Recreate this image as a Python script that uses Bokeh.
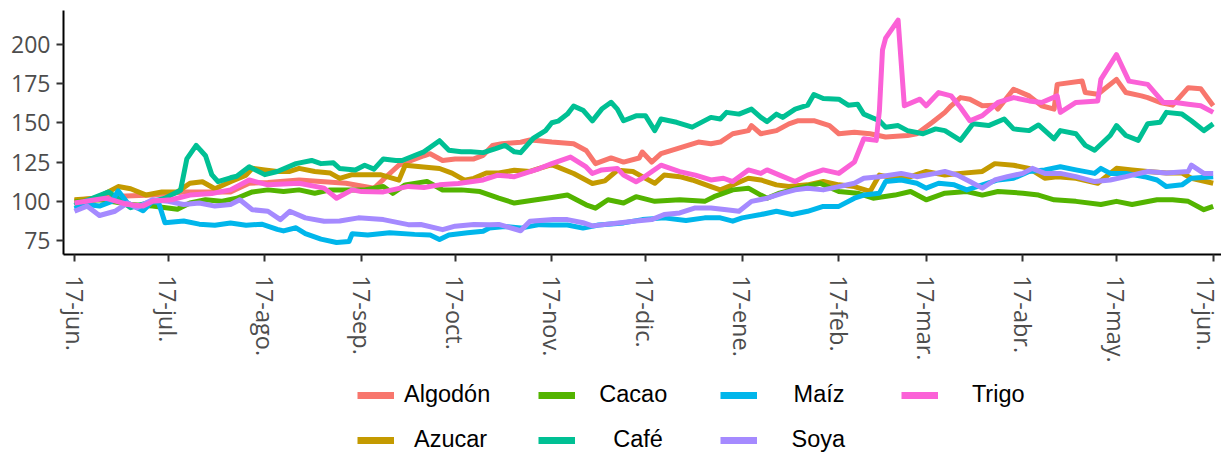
from bokeh.plotting import figure
from bokeh.models import Range1d, FixedTicker, Legend, LegendItem
from bokeh.layouts import column
from bokeh.embed import file_html
from bokeh.resources import INLINE
from datetime import date

# ---------------- data ----------------
START = date(2021, 6, 17)   # day 0 of the x axis

tick_dates = [date(2021, 6, 17), date(2021, 7, 17), date(2021, 8, 17), date(2021, 9, 17),
              date(2021, 10, 17), date(2021, 11, 17), date(2021, 12, 17), date(2022, 1, 17),
              date(2022, 2, 17), date(2022, 3, 17), date(2022, 4, 17), date(2022, 5, 17),
              date(2022, 6, 17)]
tick_labels = ["17-jun.", "17-jul.", "17-ago.", "17-sep.", "17-oct.", "17-nov.", "17-dic.",
               "17-ene.", "17-feb.", "17-mar.", "17-abr.", "17-may.", "17-jun."]
y_ticks = [75, 100, 125, 150, 175, 200]

series_names = ["Algodón", "Azucar", "Cacao", "Café", "Maíz", "Soya", "Trigo"]

algodon_days = [0, 10, 25, 35, 50, 56, 62, 72, 80, 87, 96, 100, 104, 108, 112, 114, 118, 122, 128, 131,
                134, 137, 143, 146, 149, 153, 160, 164, 167, 172, 176, 181, 182, 185, 188, 194, 200, 204,
                207, 211, 216, 217, 220, 225, 229, 232, 237, 242, 245, 250, 255, 260, 267, 270, 275, 279,
                281, 284, 287, 291, 295, 296, 301, 306, 310, 314, 315, 323, 324, 328, 334, 337, 342, 344,
                348, 352, 357, 361, 365]
algodon_vals = [100.4, 103, 104, 106, 106, 111.5, 112, 113.6, 112.5, 111.5, 108.3, 115.8, 123, 126, 129,
                130.3, 126, 127, 127, 129.3, 135.5, 136.7, 137.6, 139, 138.6, 137.7, 136.6, 132.4, 124,
                127.6, 125, 127.6, 131.4, 125, 130.4, 134, 137.7, 136.7, 137.7, 143, 145, 148.2, 143, 145,
                149.3, 151.3, 151.3, 148.2, 143, 144, 143, 140.9, 141.9, 143, 150.3, 156.6, 160.8, 166,
                165, 160.8, 161.2, 158.7, 171.3, 167.1, 160.8, 158.7, 174.4, 176.5, 169.2, 168.1, 177.6,
                169.2, 167.1, 166, 162.9, 161.2, 172.3, 171.7, 160.8]

azucar_days = [0, 7, 14, 18, 23, 28, 33, 37, 41, 45, 50, 55, 57, 61, 65, 69, 72, 77, 82, 85, 89, 94, 98,
               104, 106, 111, 117, 121, 125, 128, 132, 136, 141, 146, 149, 153, 160, 166, 170, 174, 179,
               182, 186, 189, 194, 198, 204, 207, 211, 216, 220, 225, 229, 235, 240, 245, 250, 255, 258,
               263, 268, 273, 279, 284, 291, 295, 301, 306, 311, 315, 321, 328, 334, 339, 344, 350, 355,
               358, 365]
azucar_vals = [101, 102, 109.4, 108, 104, 106, 106, 111.5, 112.5, 108, 112.5, 116.7, 121, 120, 119, 119,
               121, 119, 118, 114.6, 117, 117, 117, 113.5, 123, 122, 120.9, 118, 113.5, 114.6, 118, 118,
               119.8, 119, 121, 123.4, 117.7, 111.4, 113, 119.8, 119, 115.7, 111.5, 116.7, 115.7, 113.6,
               109.4, 107.3, 110.5, 114.7, 113.6, 110.5, 109.4, 110.5, 112.6, 110.5, 109.4, 106.3, 116.7,
               114.7, 115.7, 119, 116.7, 117.8, 119, 124, 123, 121, 114.7, 115.7, 114.7, 111.5, 121, 120,
               119, 118, 118, 114.7, 111.5]

cacao_days = [0, 8, 13, 18, 25, 33, 37, 42, 47, 52, 57, 62, 67, 72, 77, 82, 85, 93, 99, 102, 106, 113,
              118, 124, 130, 136, 141, 148, 153, 158, 164, 167, 171, 176, 180, 186, 194, 202, 205, 211,
              216, 220, 222, 226, 232, 239, 245, 251, 256, 263, 268, 273, 279, 286, 291, 296, 304, 309,
              314, 321, 329, 334, 339, 347, 352, 357, 362, 365]
cacao_vals = [99.6, 101, 99.6, 98, 97, 95, 99, 101, 100, 102, 106, 107.3, 106.3, 107.3, 105.2, 107.3,
              107.2, 107.3, 109.4, 105.1, 110.5, 112.7, 107.2, 107.3, 106.2, 102, 98.9, 101, 102.5, 104,
              97.8, 95.7, 101, 99, 103, 100, 101, 100, 103, 107.3, 108.4, 104, 102, 105.2, 108.4, 111.5,
              106.3, 105.2, 102, 104, 106.3, 101, 105.2, 106.3, 104, 106.3, 105.2, 104, 101, 100, 98, 100,
              98, 101, 101, 100, 94.7, 96.8]

cafe_days = [0, 11, 18, 25, 29, 34, 36, 39, 42, 44, 46, 50, 52, 56, 61, 65, 71, 76, 79, 83, 85, 90, 93,
             96, 99, 103, 105, 112, 117, 120, 124, 127, 131, 135, 138, 141, 143, 147, 151, 153, 155, 158,
             160, 163, 166, 169, 172, 174, 176, 180, 183, 186, 188, 193, 198, 204, 207, 209, 213, 217,
             220, 222, 225, 227, 231, 235, 237, 240, 245, 248, 251, 253, 258, 260, 264, 267, 272, 276,
             279, 284, 288, 293, 298, 301, 306, 309, 314, 316, 321, 324, 327, 332, 334, 337, 341, 344,
             348, 350, 355, 358, 362, 365]
cafe_vals = [97.5, 106, 96, 100, 102, 107, 127, 135.6, 129, 117, 112.5, 115, 116, 122, 117, 119, 124, 126,
             124, 124.5, 120.9, 120, 123, 120.5, 127, 126, 126, 131.5, 138.6, 132.5, 131.5, 131.5, 131,
             133.5, 135.6, 131.5, 131, 140, 145, 150, 151, 155.5, 160.6, 158, 151.2, 158.7, 163, 158.7,
             151.3, 154.4, 154.5, 145, 152.4, 150.3, 147.2, 153.4, 152.4, 156.6, 155.5, 158.7, 153.4,
             150.7, 155.5, 153.4, 158.7, 161.2, 168, 165.4, 165, 161.2, 161.8, 155.5, 151.3, 147.2, 148.2,
             145, 143, 146.1, 145, 138.8, 149.3, 148.2, 152.4, 146.1, 145, 148.6, 139.8, 145, 143, 135.6,
             132.5, 141.9, 148.2, 141.9, 138.8, 149.3, 150.3, 156.6, 155.5, 151.3, 145, 149.3]

maiz_days = [0, 4, 8, 12, 14, 17, 22, 25, 27, 29, 35, 40, 45, 50, 55, 60, 65, 67, 71, 74, 79, 84, 88, 89,
             94, 101, 109, 114, 117, 120, 126, 131, 133, 138, 143, 149, 153, 158, 163, 168, 176, 182,
             189, 196, 202, 207, 211, 214, 220, 225, 230, 235, 240, 245, 250, 253, 258, 260, 265, 270,
             273, 277, 282, 286, 291, 296, 301, 306, 311, 316, 321, 327, 329, 332, 337, 343, 347, 350,
             355, 358, 365]
maiz_vals = [95.4, 98, 97, 100, 106.7, 99, 94, 100, 99, 86.4, 87.5, 85.5, 84.8, 86.2, 84.8, 85.5, 82.2, 81.2,
             83.2, 79.5, 76, 73.8, 74.5, 79.4, 78.6, 80, 79, 78.6, 75.8, 78.6, 80, 81, 83, 84, 83, 85.2, 85,
             85, 83, 85, 86.3, 88.4, 89.5, 87.8, 89.5, 89.5, 87.4, 89.5, 91.6, 93.7, 91.6, 93.7, 96.8,
             96.8, 102, 104, 105.2, 112.6, 113.6, 111.5, 108.4, 111.5, 110.5, 107.3, 110.5, 113.6, 114.7,
             119, 120, 122, 120, 117.8, 121, 117.8, 117.8, 115.7, 113.6, 109.4, 110.5, 114.7, 115.7]

soya_days = [0, 4, 8, 13, 17, 20, 25, 30, 35, 40, 45, 50, 53, 57, 62, 66, 69, 74, 80, 85, 91, 99, 107,
             111, 118, 122, 128, 133, 136, 143, 146, 153.5, 158, 163, 166, 175, 180, 185, 189, 194, 199,
             204, 209, 213, 217, 222, 227, 231, 235, 240, 245, 250, 253, 258, 265, 270, 276, 279, 283,
             287, 291, 295, 299, 304, 307, 311, 316, 321, 327, 332, 337, 344, 350, 357, 358, 362, 365]
soya_vals = [93.7, 97, 91, 93.7, 99, 96, 101, 100, 98, 99, 97, 98, 101, 94.7, 93.7, 88.4, 93.7, 89.5, 87.4,
             87.5, 89.5, 88.4, 85.2, 85.3, 82, 84.2, 85.3, 85.2, 85.3, 81.3, 87.4, 88.4, 88.4, 86.4, 84.4,
             86.4, 87.5, 88.4, 91.6, 92.6, 95.8, 95.8, 94.7, 93.7, 100, 102, 105.2, 107.3, 108.4, 107.3,
             109.4, 111.5, 114.7, 115.7, 117.8, 115.7, 117.8, 119, 116.7, 112.6, 108.4, 113.6, 115.7,
             117.8, 121, 117.8, 117.8, 115.7, 112.6, 113.6, 115.7, 119, 118, 119, 123, 117.8, 117.8]

trigo_days = [0, 10, 17, 22, 25, 31, 37, 44, 50, 56, 62, 72, 80, 84, 89, 92, 99, 107, 112, 117, 123, 131,
              135.5, 141, 149, 153, 159, 164, 166, 169, 174, 176, 180, 182, 188, 194, 199, 204, 208, 211,
              216, 220, 222, 226, 231, 235, 240, 245, 250, 253, 257, 258, 259, 260, 264, 266, 271, 273,
              277, 281, 284, 287, 291, 296, 301, 306, 310, 315, 316, 321, 328, 329, 334, 338, 344, 349,
              353, 357, 361, 365]
trigo_vals = [99, 102, 98, 97, 100, 101, 104, 105, 107.3, 113.6, 110.5, 111.5, 108.4, 102, 107.3, 106.2,
              106, 109.5, 108.8, 110.5, 111.4, 113.6, 116.6, 115.7, 120.9, 124, 128.2, 121.9, 117.7, 120,
              120.9, 116.7, 112.5, 114.7, 123, 118.9, 116.7, 113.6, 114.7, 112.6, 120, 117.8, 120, 116.7,
              112.6, 116.7, 120, 117.8, 125, 139.8, 138.8, 157.6, 196.4, 203.8, 215.3, 160.8, 165, 160.8,
              169.2, 167.1, 159.7, 151.3, 154.5, 162.9, 166, 163.9, 162.9, 167.1, 156.6, 162.9, 163.9,
              177.6, 193.3, 176.5, 174.4, 162.9, 162.9, 161.8, 160.8, 156.6]

series_days = [algodon_days, azucar_days, cacao_days, cafe_days, maiz_days, soya_days, trigo_days]
series_vals = [algodon_vals, azucar_vals, cacao_vals, cafe_vals, maiz_vals, soya_vals, trigo_vals]

# ---------------- style ----------------
COLORS = ["#F8766D", "#C49A00", "#53B400", "#00C094", "#00B6EB", "#A58AFF", "#FB61D7"]
TICK_FONT = "Open Sans"
LEGEND_FONT = "Liberation Sans"
LEGEND_STANDOFF = [10, 20, 24, 38, 37, 35, 34]

W, H_TOP, H_LEG = 1221, 365, 88
FRAME_L, FRAME_T, FRAME_B = 63, 10, 257
PX_PER_DAY = 3.1197
DAY0_X = 74.0          # x of day 0 in the page

tick_days = [(d - START).days for d in tick_dates]

p = figure(width=W, height=H_TOP, output_backend="svg", toolbar_location=None,
           min_border_left=FRAME_L, min_border_right=0, min_border_top=FRAME_T,
           min_border_bottom=H_TOP - FRAME_B,
           x_range=Range1d((FRAME_L - DAY0_X) / PX_PER_DAY, (W - DAY0_X) / PX_PER_DAY),
           y_range=Range1d(66.2, 221.4))
p.outline_line_color = None
p.xgrid.grid_line_color = None
p.ygrid.grid_line_color = None
p.background_fill_color = "white"
p.border_fill_color = "white"

for days, vals, col in zip(series_days, series_vals, COLORS):
    p.line(days, vals, line_color=col, line_width=5, line_join="round")

for ax in (p.xaxis[0], p.yaxis[0]):
    ax.axis_line_color = "black"
    ax.axis_line_width = 2
    ax.major_tick_line_color = "#333333"
    ax.major_tick_line_width = 2
    ax.major_tick_out = 7
    ax.major_tick_in = 0
    ax.minor_tick_line_color = None
    ax.major_label_text_font = TICK_FONT
    ax.major_label_text_color = "#4D4D4D"

p.xaxis.major_label_text_font_size = "23.5px"
p.yaxis.major_label_text_font_size = "23px"
p.xaxis.ticker = FixedTicker(ticks=tick_days)
p.xaxis.major_label_overrides = {d: lab for d, lab in zip(tick_days, tick_labels)}
p.xaxis.major_label_orientation = "vertical"
p.xaxis.major_label_standoff = 14
p.yaxis.ticker = FixedTicker(ticks=y_ticks)
p.yaxis.major_label_standoff = 6

# legend figure below the plot: 2 rows, filled by column
q = figure(width=W, height=H_LEG, output_backend="svg", toolbar_location=None,
           x_axis_location=None, y_axis_location=None,
           min_border_left=FRAME_L, min_border_right=0, min_border_top=0, min_border_bottom=0,
           x_range=Range1d(0, 1), y_range=Range1d(0, 1))
q.outline_line_color = None
q.xgrid.grid_line_color = None
q.ygrid.grid_line_color = None
q.border_fill_color = "white"

KEY_X0, PITCH_X = 357, 181.3
ROW_CY = [396 - H_TOP, 441 - H_TOP]
GH = 24
NAN = float("nan")
for i, (name, col) in enumerate(zip(series_names, COLORS)):
    proxy = q.line([NAN], [NAN], line_color=col, line_width=7)
    c, r = i // 2, i % 2
    top = ROW_CY[r] - GH / 2
    leg = Legend(items=[LegendItem(label=name, renderers=[proxy])],
                 location=(KEY_X0 + c * PITCH_X - FRAME_L, H_LEG - top - GH),
                 orientation="vertical", glyph_width=37, glyph_height=GH, label_height=GH,
                 label_standoff=LEGEND_STANDOFF[i], padding=0, margin=0, spacing=0,
                 border_line_color=None, background_fill_alpha=0,
                 label_text_font=LEGEND_FONT, label_text_font_size="23.5px",
                 label_text_color="black")
    q.add_layout(leg)

open("out.html", "w").write(file_html(column(p, q, spacing=0), INLINE))
